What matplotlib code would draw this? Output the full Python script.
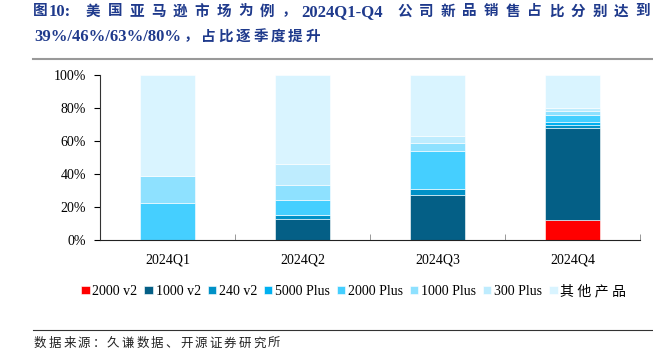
import numpy as np
import matplotlib.pyplot as plt
from matplotlib.ticker import FuncFormatter

plt.rcParams['font.family'] = ['Liberation Serif', 'Noto Sans CJK SC']

quarters = ["2024Q1", "2024Q2", "2024Q3", "2024Q4"]
series = ["2000 v2", "1000 v2", "240 v2", "5000 Plus", "2000 Plus", "1000 Plus", "300 Plus", "其他产品"]
colors = ["#FF0000", "#045F86", "#0091C7", "#00B0F0", "#45CFFF", "#8EE1FF", "#BEECFE", "#D9F4FF"]

v2000_v2 = [0, 0, 0, 12]
v1000_v2 = [0, 13, 27, 56]
v240_v2 = [0, 2, 4, 2]
v5000_plus = [0, 0, 0, 1.5]
v2000_plus = [22.5, 9, 23, 4]
v1000_plus = [16.5, 9.5, 4.5, 2.5]
v300_plus = [0, 12.5, 4.5, 2]
new_total = [39, 46, 63, 80]
other = [100 - t for t in new_total]

values = [v2000_v2, v1000_v2, v240_v2, v5000_plus, v2000_plus, v1000_plus, v300_plus, other]

W, H = 653, 353
fig = plt.figure(figsize=(W / 100, H / 100), dpi=100)
ax = fig.add_axes([100 / W, 113 / H, 540 / W, 165 / H])


def put(x, y, s, size, pitch=None, **kw):
    # place text in pixel coords; CJK runs get a fixed character pitch
    if pitch is None:
        fig.text(x / W, 1 - y / H, s, fontsize=size, va="center", ha="left", **kw)
        return
    for i, ch in enumerate(s):
        fig.text((x + i * pitch) / W, 1 - y / H, ch, fontsize=size, va="center", ha="left", **kw)


x = np.arange(len(quarters))
bottom = np.zeros(len(quarters))
for name, vals, c in zip(series, values, colors):
    label = " ".join(name) if name == "其他产品" else name
    ax.bar(x, vals, width=0.41, bottom=bottom, color=c, label=label,
           edgecolor="white", linewidth=0.4)
    bottom += np.array(vals)

ax.set_xlim(-0.5, 3.5)
ax.set_ylim(0, 100)
ax.set_yticks(range(0, 101, 20))
ax.yaxis.set_major_formatter(FuncFormatter(lambda v, p: f"{v:.0f}%"))
ax.set_xticks(x)
ax.set_xticklabels(quarters)
ax.set_xticks(np.arange(0.5, 4, 1), minor=True)
ax.tick_params(axis="x", which="major", length=0, pad=10, labelsize=10)
ax.tick_params(axis="x", which="minor", length=4, direction="in", color="#888888")
ax.tick_params(axis="y", length=4, direction="out", labelsize=10, pad=6)
ax.spines["top"].set_visible(False)
ax.spines["right"].set_visible(False)
ax.spines["left"].set_color("#333333")
ax.spines["bottom"].set_color("#222222")

ax.legend(loc="center", bbox_to_anchor=(0.47, -0.31), ncol=8, frameon=False,
          fontsize=10, handlelength=0.6, handleheight=0.6, handletextpad=0.2,
          columnspacing=0.5)

# title, laid out in runs like the justified report heading
tc = dict(color="#1F3A8C", fontweight="bold")
put(33, 12, "图", 10.5, **tc)
put(49, 12, "10:", 12, **tc)
put(86, 12, "美国亚马逊市场为例，", 10.5, pitch=21.7, **tc)
put(301, 12, "2024Q1-Q4", 12, **tc)
put(397, 12, "公司新品销售占比分别达到", 10.5, pitch=21.7, **tc)
put(34, 37, "39%/46%/63%/80%", 12, **tc)
put(184, 37, "，占比逐季度提升", 10.5, pitch=17.3, **tc)

fig.add_artist(plt.Line2D([33 / W, 1], [1 - 59 / H, 1 - 59 / H], color="#999999", lw=1.5))
fig.add_artist(plt.Line2D([33 / W, 1], [1 - 330 / H, 1 - 330 / H], color="#333333", lw=0.8))
put(34, 344, "数据来源：久谦数据、开源证券研究所", 9, pitch=14.6, color="#222222")

fig.savefig("out.png", dpi=100)
